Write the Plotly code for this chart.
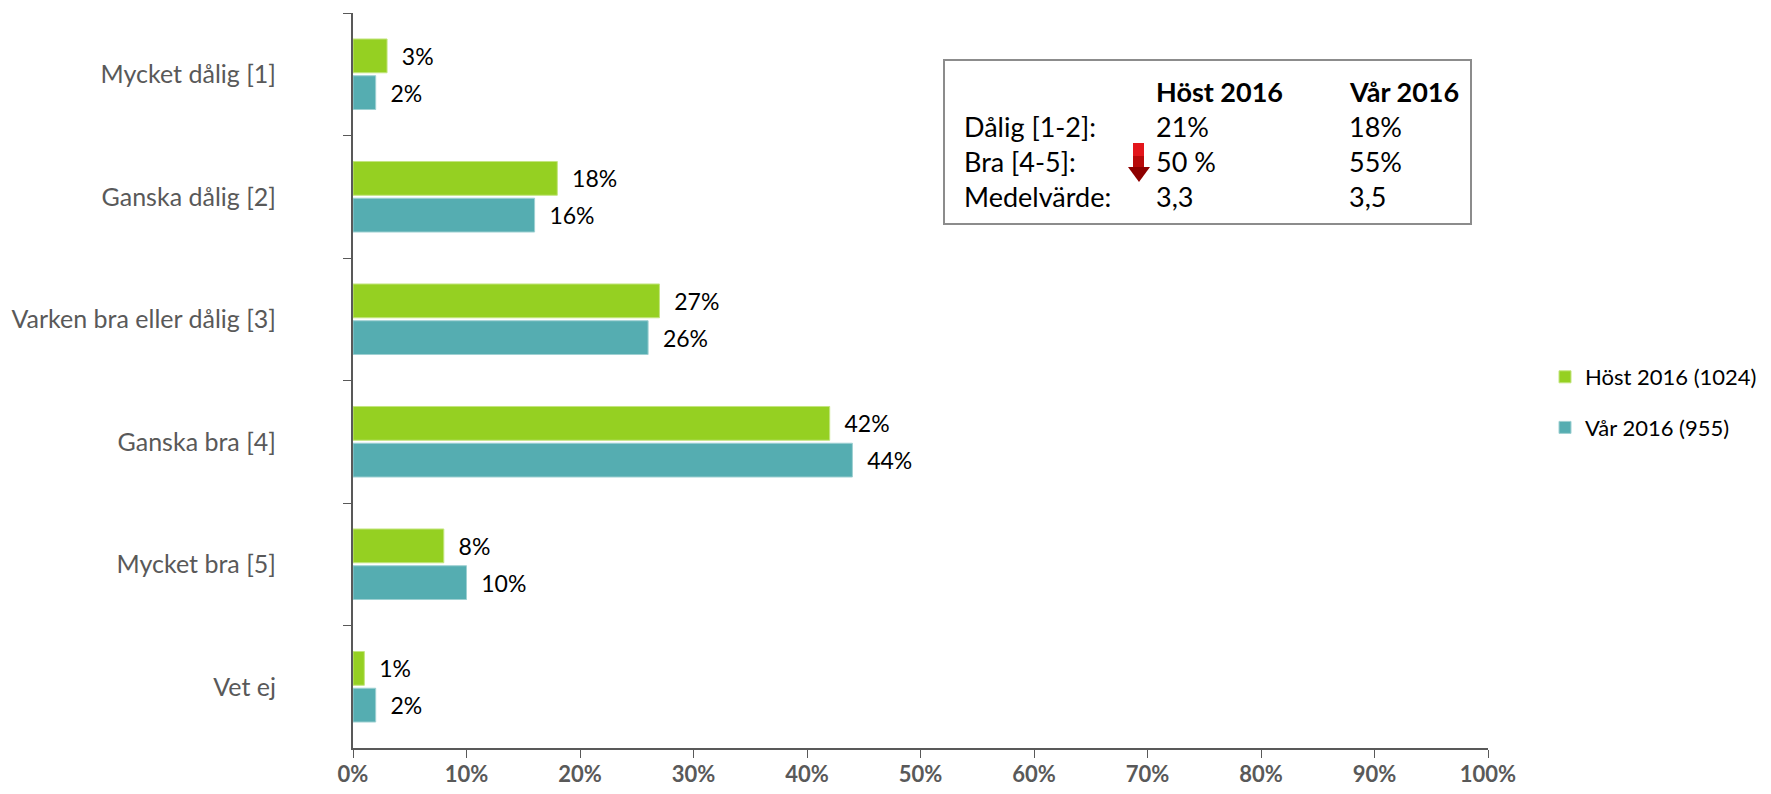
import plotly.graph_objects as go

categories = ["Mycket dålig [1]", "Ganska dålig [2]", "Varken bra eller dålig [3]",
              "Ganska bra [4]", "Mycket bra [5]", "Vet ej"]
host_2016 = [0.03, 0.18, 0.27, 0.42, 0.08, 0.01]
var_2016 = [0.02, 0.16, 0.26, 0.44, 0.10, 0.02]
series_names = ["Höst 2016 (1024)", "Vår 2016 (955)"]
x_ticks = [0, 0.1, 0.2, 0.3, 0.4, 0.5, 0.6, 0.7, 0.8, 0.9, 1.0]

table_header = ["", "Höst 2016", "Vår 2016"]
table_rows = [
    ["Dålig [1-2]:", "21%", "18%"],
    ["Bra [4-5]:", "50 %", "55%"],
    ["Medelvärde:", "3,3", "3,5"],
]

FONT = "Lato"
OFF = 8  # default page body margin
W, H = 1771 - 2 * OFF, 794 - 2 * OFF
# plot area in page pixels
L, R, T, B = 353, 1488, 13, 748


def px(x):
    return (x - L) / (R - L)


def py(y):
    return (B - y) / (B - T)


GREEN = "#95D022"
TEAL = "#55ADB1"
PAD = "\u00a0\u00a0"

fig = go.Figure()
fig.add_trace(go.Bar(
    y=categories, x=host_2016, orientation="h", name=series_names[0],
    marker=dict(color=GREEN, line=dict(color="#C3E57F", width=1)),
    text=[PAD + f"{v*100:.0f}%" for v in host_2016], textposition="outside",
    textfont=dict(family=FONT, size=23, color="#000000"), cliponaxis=False,
    legendgroup="a",
))
fig.add_trace(go.Bar(
    y=categories, x=var_2016, orientation="h", name=series_names[1],
    marker=dict(color=TEAL, line=dict(color="#9ED0D2", width=1)),
    text=[PAD + f"{v*100:.0f}%" for v in var_2016], textposition="outside",
    textfont=dict(family=FONT, size=23, color="#000000"), cliponaxis=False,
    legendgroup="b",
))

shapes = []
annotations = []

# table box
shapes.append(dict(type="rect", xref="paper", yref="paper",
                   x0=px(944), x1=px(1471), y0=py(60), y1=py(224),
                   line=dict(color="#8C8C8C", width=2), fillcolor="white", layer="above"))

col_x = [962, 1154, 1347]
row_y = [91, 127, 161, 196]
for j, h in enumerate(table_header):
    if h:
        annotations.append(dict(xref="paper", yref="paper", x=px(col_x[j]), y=py(row_y[0]),
                                text=f"<b>{h}</b>", showarrow=False, xanchor="left", yanchor="middle",
                                font=dict(family=FONT, size=27, color="#000000")))
for i, row in enumerate(table_rows):
    for j, cell in enumerate(row):
        annotations.append(dict(xref="paper", yref="paper", x=px(col_x[j]), y=py(row_y[i + 1]),
                                text=cell, showarrow=False, xanchor="left", yanchor="middle",
                                font=dict(family=FONT, size=27, color="#000000")))

# red down arrow
shapes.append(dict(type="rect", xref="paper", yref="paper",
                   x0=px(1133), x1=px(1144), y0=py(143), y1=py(156),
                   line=dict(width=0), fillcolor="#E3161B", layer="above"))
shapes.append(dict(type="rect", xref="paper", yref="paper",
                   x0=px(1133), x1=px(1144), y0=py(156), y1=py(168),
                   line=dict(width=0), fillcolor="#B80A0A", layer="above"))
shapes.append(dict(type="path", xref="paper", yref="paper",
                   path=f"M {px(1128)} {py(167)} L {px(1150)} {py(167)} L {px(1139)} {py(182)} Z",
                   line=dict(width=0), fillcolor="#8E0000", layer="above"))

fig.update_layout(
    width=W, height=H,
    margin=dict(l=L - OFF, r=W - (R - OFF), t=T - OFF, b=H - (B - OFF), pad=0, autoexpand=False),
    paper_bgcolor="white", plot_bgcolor="white",
    barmode="group", bargap=0.4, bargroupgap=0.08,
    font=dict(family=FONT, color="#595959"),
    showlegend=True,
    legend=dict(x=px(1545), y=py(356), xanchor="left", yanchor="top",
                font=dict(family=FONT, size=22, color="#000000"),
                tracegroupgap=19, traceorder="grouped",
                bgcolor="rgba(0,0,0,0)"),
    shapes=shapes, annotations=annotations,
)
fig.update_xaxes(range=[0, 1], tickvals=x_ticks,
                 ticktext=[f"<b>{v*100:.0f}%</b>" for v in x_ticks],
                 showgrid=False, zeroline=False, automargin=False,
                 showline=True, linecolor="#595959", linewidth=2,
                 ticks="outside", ticklen=8, tickcolor="#595959", tickwidth=1,
                 ticklabelstandoff=-2,
                 tickfont=dict(family=FONT, size=22, color="#595959"))
fig.update_yaxes(autorange="reversed", showgrid=False, zeroline=False, automargin=False,
                 showline=True, linecolor="#595959", linewidth=2,
                 ticks="outside", ticklen=8, tickcolor="#595959", tickwidth=1,
                 tickson="boundaries", ticklabelstandoff=70,
                 tickfont=dict(family=FONT, size=25, color="#595959"))

fig.write_html("out.html")
